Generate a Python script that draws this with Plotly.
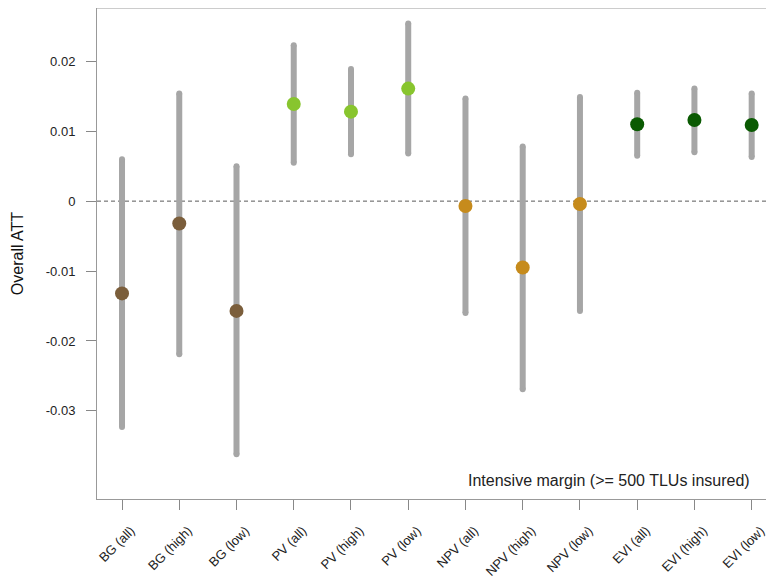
import plotly.graph_objects as go

categories = ["BG (all)", "BG (high)", "BG (low)", "PV (all)", "PV (high)", "PV (low)",
              "NPV (all)", "NPV (high)", "NPV (low)", "EVI (all)", "EVI (high)", "EVI (low)"]
estimates = [-0.0132, -0.0032, -0.0157, 0.0139, 0.0128, 0.0161,
             -0.0007, -0.0095, -0.0004, 0.0110, 0.0116, 0.0109]
ci_low = [-0.0323, -0.0219, -0.0362, 0.0055, 0.0067, 0.0068,
          -0.0160, -0.0269, -0.0157, 0.0065, 0.0070, 0.0063]
ci_high = [0.0060, 0.0154, 0.0050, 0.0223, 0.0189, 0.0254,
           0.0147, 0.0078, 0.0149, 0.0155, 0.0161, 0.0154]
groups = ["BG"] * 3 + ["PV"] * 3 + ["NPV"] * 3 + ["EVI"] * 3
group_colors = {"BG": "#7B5E3B", "PV": "#88C52E", "NPV": "#C68B1C", "EVI": "#0A5A02"}
y_tickvals = [-0.03, -0.02, -0.01, 0, 0.01, 0.02]
y_ticktext = ["-0.03", "-0.02", "-0.01", "0", "0.01", "0.02"]
annotation_text = "Intensive margin (>= 500 TLUs insured)"

FONT = "Liberation Sans, Arial, Helvetica"
xs = list(range(len(categories)))
fig = go.Figure()

# CI lines
lx, ly = [], []
for i in xs:
    lx += [i, i, None]
    ly += [ci_low[i], ci_high[i], None]
fig.add_trace(go.Scatter(x=lx, y=ly, mode="lines",
                         line=dict(color="#A6A6A6", width=6),
                         hoverinfo="skip", showlegend=False))
# round caps
fig.add_trace(go.Scatter(x=xs + xs, y=ci_low + ci_high, mode="markers",
                         marker=dict(color="#A6A6A6", size=6, line=dict(width=0)),
                         hoverinfo="skip", showlegend=False))
# points
fig.add_trace(go.Scatter(x=xs, y=estimates, mode="markers",
                         marker=dict(color=[group_colors[g] for g in groups], size=14,
                                     line=dict(width=0)),
                         showlegend=False))

fig.add_shape(type="line", xref="paper", x0=0, x1=1, yref="y", y0=0, y1=0,
              line=dict(color="#5A5A5A", width=1, dash="4px,3px"), layer="below")

fig.add_annotation(x=11, y=-0.0399, xref="x", yref="y", text=annotation_text,
                   showarrow=False, xanchor="right", yanchor="middle",
                   font=dict(size=16, color="#222222", family=FONT))

# page body has an 8px margin, so the figure is sized/offset to compensate
fig.update_layout(
    width=766, height=572,
    margin=dict(l=89, r=0, t=0, b=81),
    paper_bgcolor="white", plot_bgcolor="white",
    font=dict(family=FONT, color="#222222"),
    xaxis=dict(range=[-0.437, 11.39], tickvals=xs, ticktext=categories,
               tickangle=-45, ticks="outside", ticklen=10, tickcolor="#888888",
               showgrid=False, zeroline=False, showline=True, linecolor="#999999",
               linewidth=1, automargin=False, ticklabelstandoff=8, ticklabelshift=9,
               tickfont=dict(size=13, color="#222222", family=FONT)),
    yaxis=dict(range=[-0.04261, 0.02763], tickvals=y_tickvals, ticktext=y_ticktext,
               ticks="outside", ticklen=10, tickcolor="#888888", ticklabelstandoff=8,
               showgrid=False, zeroline=False, showline=True, linecolor="#999999",
               linewidth=1, automargin=False,
               tickfont=dict(size=13, color="#222222", family=FONT),
               title=dict(text="Overall ATT", font=dict(size=16, color="#111111", family=FONT),
                          standoff=18)),
)
# top border
fig.add_shape(type="line", xref="paper", yref="paper", x0=0, x1=1, y0=1, y1=1,
              line=dict(color="#999999", width=1))

fig.write_html("out.html")
